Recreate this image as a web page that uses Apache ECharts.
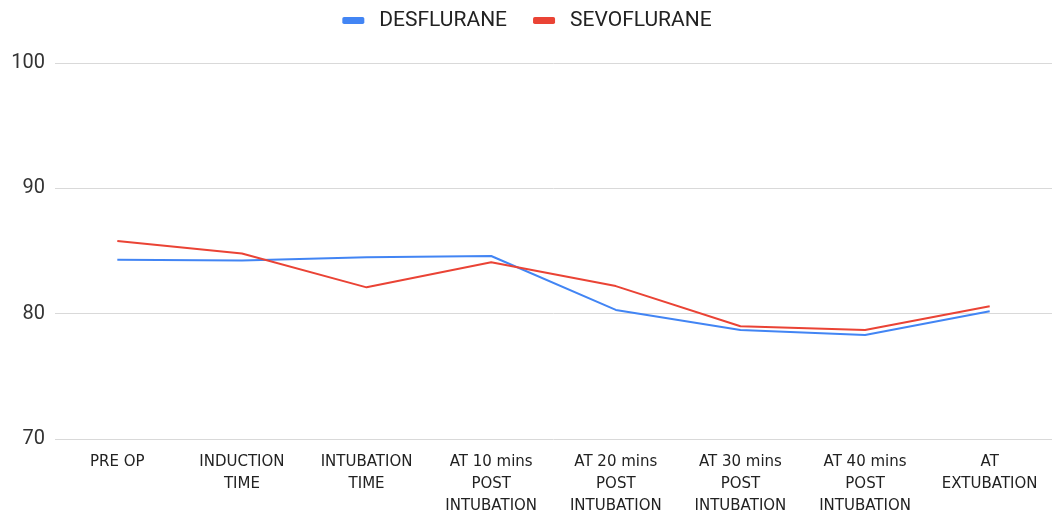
<!DOCTYPE html>
<html>
<head>
<meta charset="utf-8">
<script src="https://cdn.jsdelivr.net/npm/echarts@6/dist/echarts.min.js"></script>
<style>
  html, body { margin: 0; padding: 0; background: #fff; }
  #chart { width: 1054px; height: 515px; }
</style>
</head>
<body>
<div id="chart"></div>
<script>
// time points (tick labels wrapped as in the original)
var categories = [
  "PRE OP",
  "INDUCTION\nTIME",
  "INTUBATION\nTIME",
  "AT 10 mins\nPOST\nINTUBATION",
  "AT 20 mins\nPOST\nINTUBATION",
  "AT 30 mins\nPOST\nINTUBATION",
  "AT 40 mins\nPOST\nINTUBATION",
  "AT\nEXTUBATION"
];
var desflurane = [84.3, 84.25, 84.5, 84.6, 80.3, 78.7, 78.3, 80.2];
var sevoflurane = [85.8, 84.8, 82.1, 84.1, 82.2, 79.0, 78.7, 80.6];

var chart = echarts.init(document.getElementById("chart"));
chart.setOption({
  animation: false,
  color: ["#4285f4", "#ea4335"],
  legend: {
    top: 5,
    left: "center",
    icon: "roundRect",
    itemWidth: 22,
    itemHeight: 7,
    itemGap: 26,
    textStyle: {
      color: "#222",
      fontSize: 21,
      fontFamily: "Roboto",
      padding: [0, 0, 0, 10]
    },
    data: ["DESFLURANE", "SEVOFLURANE"]
  },
  grid: { left: 55, right: 2, top: 63, bottom: 76, outerBoundsMode: "none" },
  xAxis: {
    type: "category",
    boundaryGap: true,
    data: categories,
    axisLine: { show: false },
    axisTick: { show: false },
    axisLabel: {
      interval: 0,
      margin: 12,
      color: "#222",
      fontSize: 15,
      lineHeight: 22,
      fontFamily: "DejaVu Sans"
    }
  },
  yAxis: {
    type: "value",
    min: 70,
    max: 100,
    interval: 10,
    axisLine: { show: false },
    axisTick: { show: false },
    axisLabel: { color: "#333", fontSize: 20, margin: 10, fontFamily: "Roboto" },
    splitLine: { lineStyle: { color: "#d9d9d9", width: 1 } }
  },
  series: [
    {
      name: "DESFLURANE",
      type: "line",
      data: desflurane,
      symbol: "none",
      lineStyle: { width: 2 }
    },
    {
      name: "SEVOFLURANE",
      type: "line",
      data: sevoflurane,
      symbol: "none",
      lineStyle: { width: 2 }
    }
  ]
});
</script>
</body>
</html>
